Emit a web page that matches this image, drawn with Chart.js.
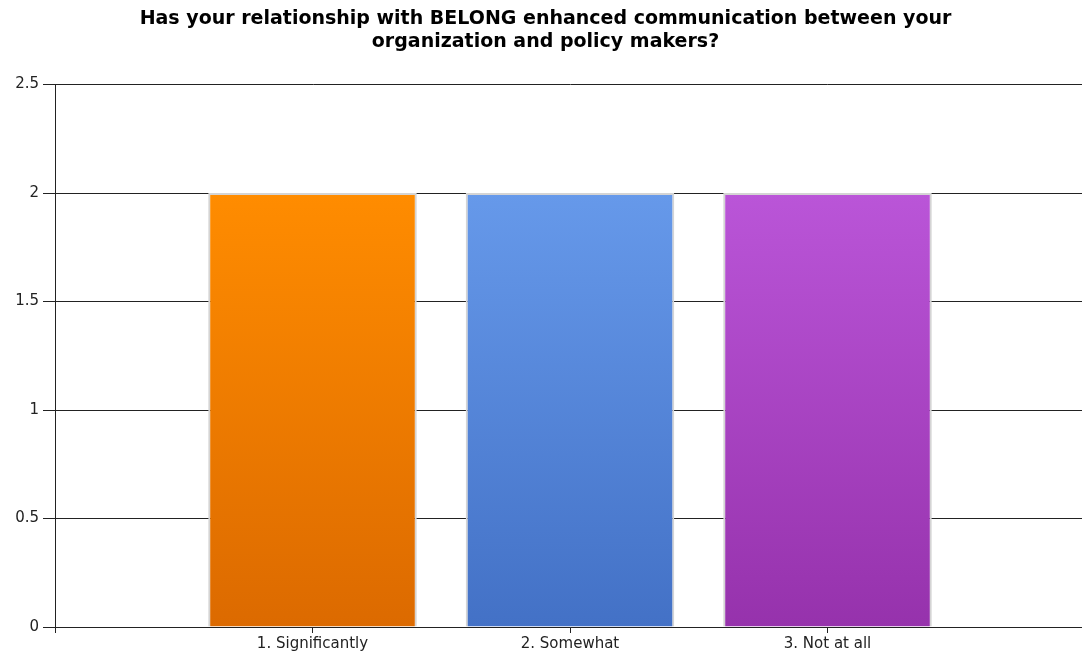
<!DOCTYPE html>
<html>
<head>
<meta charset="utf-8">
<script src="https://cdn.jsdelivr.net/npm/chart.js@4/dist/chart.umd.min.js"></script>
<style>
    body { margin: 0; background: #fff; overflow: hidden; }
    /* a touch wider than the window: the original plot runs past the right edge */
    #wrap { width: 1087px; height: 657px; }
</style>
</head>
<body>
<div id="wrap"><canvas id="belongChart"></canvas></div>
<script>
// empty slots at both ends keep the bars where the original put them
const categories = ['', '1. Significantly', '2. Somewhat', '3. Not at all', '']
const responses = [null, 2, 2, 2, null]
const titleLines = ['Has your relationship with BELONG enhanced communication between your', 'organization and policy makers?']

// top / bottom colour of each bar's gradient
const topColors = [null, '#ff8c00', '#6699ea', '#ba55d8', null]
const bottomColors = [null, '#dc6a00', '#4371c6', '#9632ac', null]

const fontFamily = 'DejaVu Sans, Verdana, sans-serif'

function barFill(ctx) {
    const chart = ctx.chart
    const i = ctx.dataIndex
    if (!chart.chartArea || !topColors[i]) return topColors[i] || 'transparent'
    const yScale = chart.scales.y
    const top = yScale.getPixelForValue(responses[i])
    const bottom = yScale.getPixelForValue(0)
    const g = chart.ctx.createLinearGradient(0, top, 0, bottom)
    g.addColorStop(0, topColors[i])
    g.addColorStop(1, bottomColors[i])
    return g
}

const config = {
    type: 'bar',
    data: {
        labels: categories,
        datasets: [{
            data: responses,
            backgroundColor: barFill,
            borderColor: '#d4d4d4',
            borderWidth: 2,
            categoryPercentage: 0.81,
            barPercentage: 1
        }]
    },
    options: {
        responsive: true,
        maintainAspectRatio: false,
        animation: false,
        layout: { padding: { left: 0, right: -4, top: 0, bottom: 0 } },
        plugins: {
            legend: { display: false },
            tooltip: { enabled: false },
            title: {
                display: true,
                text: titleLines,
                color: '#000',
                font: { family: fontFamily, size: 19, weight: 'bold', lineHeight: 1.2 },
                padding: { top: 8, bottom: 31 }
            }
        },
        scales: {
            x: {
                offset: false,
                grid: { display: true, offset: false, drawOnChartArea: false, drawTicks: true, tickLength: 6, color: '#222' },
                border: { display: true, color: '#222' },
                ticks: {
                    autoSkip: false,
                    maxRotation: 0,
                    padding: 2,
                    color: '#222',
                    font: { family: fontFamily, size: 15 }
                },
                afterFit: function (scale) { scale.height = 30 }
            },
            y: {
                min: 0,
                max: 2.5,
                grid: { color: '#222', tickLength: 12 },
                border: { display: true, color: '#222' },
                ticks: {
                    stepSize: 0.5,
                    padding: 4,
                    color: '#222',
                    font: { family: fontFamily, size: 15 },
                    callback: function (value) { return String(value) }
                },
                afterFit: function (scale) { scale.width = 55 }
            }
        }
    }
}

new Chart(document.getElementById('belongChart'), config)
</script>
</body>
</html>
